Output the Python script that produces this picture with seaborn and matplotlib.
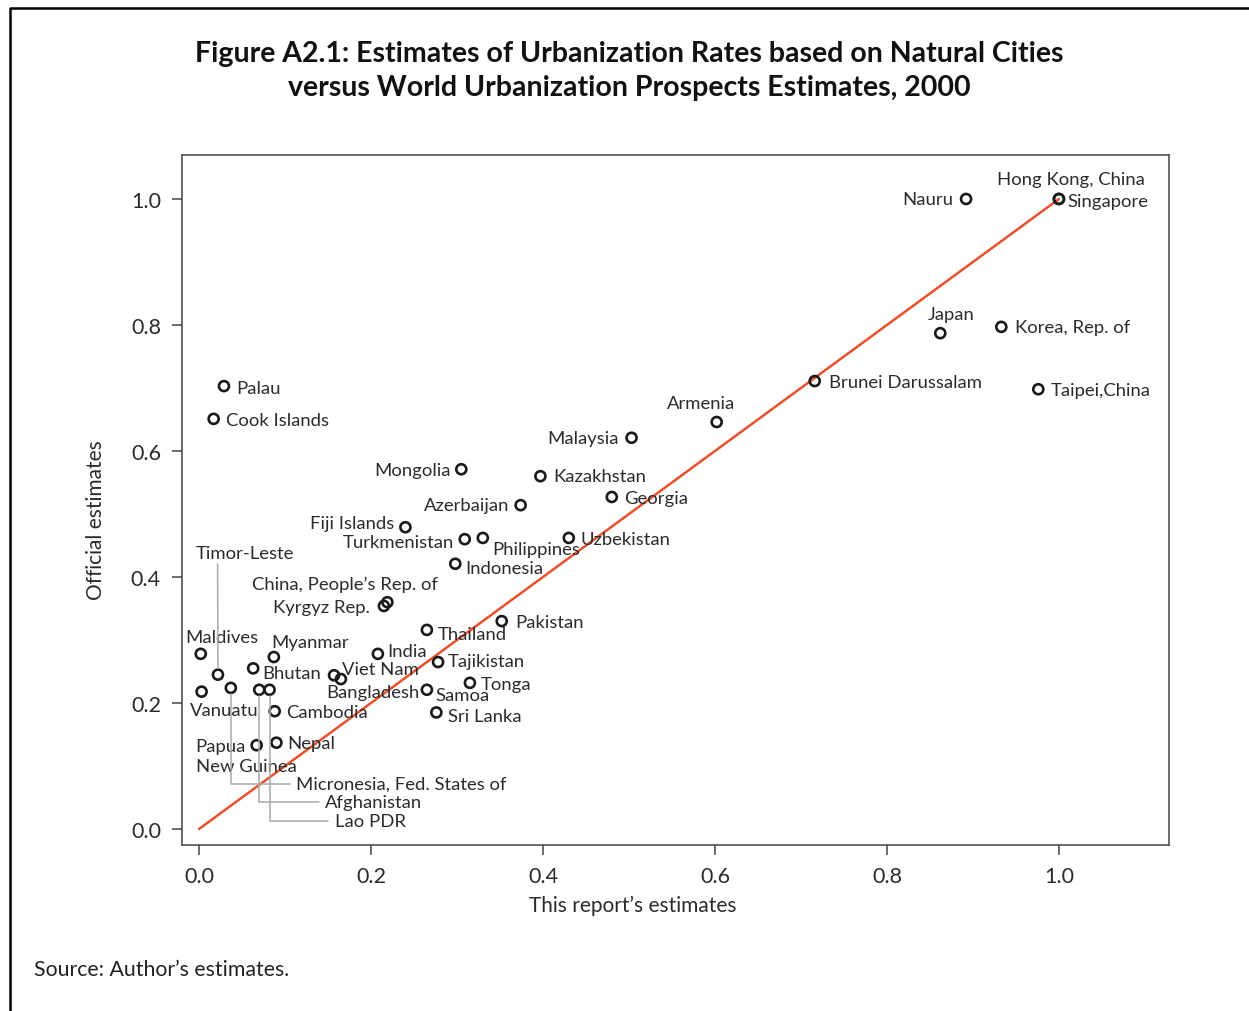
import matplotlib
matplotlib.use("agg")
import matplotlib.pyplot as plt
from matplotlib.lines import Line2D
import pandas as pd
import seaborn as sns

countries = ["Hong Kong, China", "Singapore", "Nauru", "Japan", "Korea, Rep. of",
             "Brunei Darussalam", "Taipei,China", "Armenia", "Malaysia", "Kazakhstan",
             "Georgia", "Mongolia", "Azerbaijan", "Palau", "Cook Islands",
             "Fiji Islands", "Turkmenistan", "Philippines", "Uzbekistan", "Indonesia",
             "China, People\u2019s Rep. of", "Kyrgyz Rep.", "Pakistan", "Thailand", "India",
             "Tajikistan", "Viet Nam", "Bangladesh", "Samoa", "Tonga",
             "Sri Lanka", "Cambodia", "Nepal", "Papua\nNew Guinea", "Myanmar",
             "Bhutan", "Maldives", "Vanuatu", "Timor-Leste", "Micronesia, Fed. States of",
             "Afghanistan", "Lao PDR"]
report_est = [1.0, 1.0, 0.892, 0.862, 0.933,
              0.716, 0.976, 0.602, 0.503, 0.397,
              0.480, 0.305, 0.374, 0.029, 0.017,
              0.240, 0.309, 0.330, 0.430, 0.298,
              0.219, 0.215, 0.352, 0.265, 0.208,
              0.278, 0.165, 0.157, 0.265, 0.315,
              0.276, 0.088, 0.090, 0.067, 0.087,
              0.063, 0.002, 0.003, 0.022, 0.037,
              0.070, 0.082]
official_est = [1.0, 1.0, 1.0, 0.787, 0.797,
                0.711, 0.698, 0.646, 0.621, 0.560,
                0.527, 0.571, 0.514, 0.703, 0.651,
                0.479, 0.460, 0.462, 0.462, 0.421,
                0.360, 0.354, 0.330, 0.316, 0.278,
                0.265, 0.238, 0.244, 0.221, 0.232,
                0.185, 0.187, 0.137, 0.133, 0.273,
                0.255, 0.278, 0.218, 0.245, 0.224,
                0.221, 0.221]
ref_line = [0.0, 1.0]
ticks = [0.0, 0.2, 0.4, 0.6, 0.8, 1.0]
tick_labels = ["0.0", "0.2", "0.4", "0.6", "0.8", "1.0"]

# label offsets from the point, in pixels (dx, dy up, alignment)
label_pos = {
    "Hong Kong, China": (12, 20, "center"),
    "Singapore": (9, -2, "left"),
    "Nauru": (-13, 0, "right"),
    "Japan": (11, 19, "center"),
    "Korea, Rep. of": (14, 0, "left"),
    "Brunei Darussalam": (14, -1, "left"),
    "Taipei,China": (12, -1, "left"),
    "Armenia": (-16, 19, "center"),
    "Malaysia": (-13, 0, "right"),
    "Kazakhstan": (13, 0, "left"),
    "Georgia": (12, -1, "left"),
    "Mongolia": (-11, -1, "right"),
    "Azerbaijan": (-11, 0, "right"),
    "Palau": (12, -2, "left"),
    "Cook Islands": (12, -1, "left"),
    "Fiji Islands": (-11, 4, "right"),
    "Turkmenistan": (-11, -3, "right"),
    "Philippines": (9, -11, "left"),
    "Uzbekistan": (12, -1, "left"),
    "Indonesia": (10, -4, "left"),
    "China, People\u2019s Rep. of": (51, 18, "right"),
    "Kyrgyz Rep.": (-14, -1, "right"),
    "Pakistan": (14, -1, "left"),
    "Thailand": (11, -4, "left"),
    "India": (9, 3, "left"),
    "Tajikistan": (10, 1, "left"),
    "Viet Nam": (1, 10, "left"),
    "Bangladesh": (-8, -17, "left"),
    "Samoa": (9, -5, "left"),
    "Tonga": (11, -1, "left"),
    "Sri Lanka": (12, -4, "left"),
    "Cambodia": (11, -1, "left"),
    "Nepal": (11, 0, "left"),
    "Papua\nNew Guinea": (-61, -1, "left"),
    "Myanmar": (-3, 15, "left"),
    "Bhutan": (9, -5, "left"),
    "Maldives": (-15, 17, "left"),
    "Vanuatu": (-12, -18, "left"),
}
line_step = 20  # pixels between lines of a wrapped label
# labels joined to their point by a grey leader line
leader_pos = {
    "Timor-Leste": (-22, 122),
    "Micronesia, Fed. States of": (65, -96),
    "Afghanistan": (66, -112),
    "Lao PDR": (65, -131),
}

df = pd.DataFrame({"country": countries, "report": report_est, "official": official_est})

sns.set_theme(style="white")
plt.rcParams["font.family"] = ["Lato", "DejaVu Sans"]
txt = "#2b2b2b"

fig = plt.figure(figsize=(12.49, 10.12), dpi=100)
ax = fig.add_axes([182 / 1249, 1 - 846 / 1012, 987 / 1249, 690 / 1012])

sns.lineplot(x=ref_line, y=ref_line, ax=ax, color="#E8502E", lw=1.8, zorder=1)
sns.scatterplot(data=df, x="report", y="official", ax=ax, marker="o", s=52,
                facecolor="none", edgecolor="#1a1a1a", linewidth=1.9, zorder=3)
ax.collections[-1].set_facecolor("none")

for name, x, y in zip(countries, report_est, official_est):
    if name in label_pos:
        dx, dy, ha = label_pos[name]
        # wrapped names are drawn line by line
        for i, part in enumerate(name.split("\n")):
            ax.annotate(part, (x, y), xytext=(dx, dy - i * line_step),
                        textcoords="offset pixels", ha=ha, va="center",
                        fontsize=13.3, color=txt, zorder=4)
    else:
        dx, dy = leader_pos[name]
        if dy > 0:
            arrow = dict(arrowstyle="-", color="#aaaaaa", lw=1.1, relpos=(0.22, 0),
                         shrinkA=0, shrinkB=4.5, connectionstyle="arc3")
        else:
            arrow = dict(arrowstyle="-", color="#aaaaaa", lw=1.1, relpos=(0, 0.5),
                         shrinkA=2, shrinkB=4.5,
                         connectionstyle="angle,angleA=0,angleB=90,rad=0")
        ax.annotate(name, (x, y), xytext=(dx, dy), textcoords="offset pixels",
                    ha="left", va="center", fontsize=13.3, color=txt,
                    arrowprops=arrow, zorder=4)

ax.set_xlim(-0.0198, 1.128)
ax.set_ylim(-0.0254, 1.0698)
ax.set_xticks(ticks)
ax.set_xticklabels(tick_labels)
ax.set_yticks(ticks)
ax.set_yticklabels(tick_labels)
ax.tick_params(direction="out", length=7.2, width=1.1, color="#444444",
               labelsize=15.5, labelcolor=txt, pad=8, bottom=True, left=True)
for sp in ax.spines.values():
    sp.set_color("#444444")
    sp.set_linewidth(1.1)

ax.set_xlabel("This report\u2019s estimates", fontsize=15, color=txt)
ax.set_ylabel("Official estimates", fontsize=15, color=txt)
ax.xaxis.set_label_coords(0.457, -0.072)
ax.yaxis.set_label_coords(-0.077, 0.472)

fig.text(0.504, 1 - 71 / 1012,
         "Figure A2.1: Estimates of Urbanization Rates based on Natural Cities\n"
         "versus World Urbanization Prospects Estimates, 2000",
         ha="center", va="center", fontsize=20.5, fontweight="bold", color="#111111",
         linespacing=1.37)
fig.text(34 / 1249, 1 - 970 / 1012, "Source: Author\u2019s estimates.",
         ha="left", va="center", fontsize=15.3, color="#222222")

# page frame (top and left edges)
fy = 1 - 9 / 1012
fx = 9.5 / 1249
fig.add_artist(Line2D([fx, fx, 1], [0, fy, fy], color="black", lw=1.8,
                      transform=fig.transFigure))

fig.savefig("out.png", dpi=100)
